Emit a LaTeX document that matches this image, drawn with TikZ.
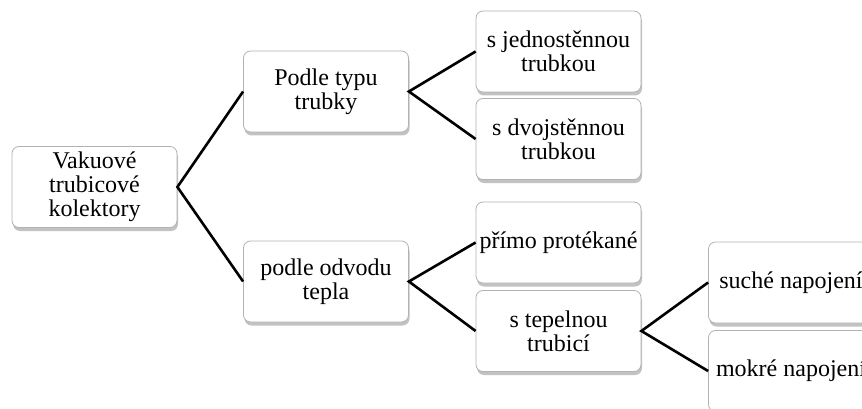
\documentclass[tikz,border=0pt]{standalone}
\usepackage{fontspec}
\setmainfont{Liberation Serif}
\usetikzlibrary{shadows}

\tikzset{
  blok/.style={draw=gray!60, line width=0.8pt, fill=white, rounded corners=7pt,
    minimum width=165pt, minimum height=81pt, inner sep=2pt, align=center,
    font=\fontsize{24}{24}\selectfont,
    drop shadow={shadow xshift=1pt, shadow yshift=-3.5pt, fill=gray!80, opacity=0.6}},
  spoj/.style={line width=2.6pt}
}

\begin{document}
\begin{tikzpicture}[x=1pt,y=-1pt]
\clip (0,0) rectangle (862,409);
\node[blok] (root) at (94.5,187) {Vakuové\\trubicové\\kolektory};
\node[blok] (typ) at (326,91.5) {Podle typu\\trubky};
\node[blok] (odvod) at (326,281.5) {podle odvodu\\tepla};
\node[blok] (jedno) at (558.5,51.5) {s jednostěnnou\\trubkou};
\node[blok] (dvoj) at (558.5,139) {s dvojstěnnou\\trubkou};
\node[blok] (primo) at (558.5,242.5) {přímo protékané};
\node[blok] (tepel) at (558.5,331) {s tepelnou\\trubicí};
\node[blok] (suche) at (791,282.5) {suché napojení};
\node[blok] (mokre) at (791,371) {mokré napojení};
\draw[spoj] (typ.west) -- (root.east) -- (odvod.west);
\draw[spoj] (jedno.west) -- (typ.east) -- (dvoj.west);
\draw[spoj] (primo.west) -- (odvod.east) -- (tepel.west);
\draw[spoj] (suche.west) -- (tepel.east) -- (mokre.west);
\end{tikzpicture}
\end{document}
